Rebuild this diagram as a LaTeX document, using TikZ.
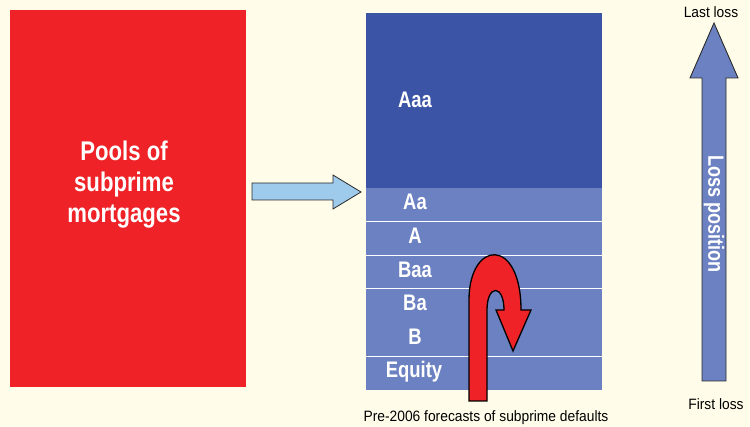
\documentclass[tikz,border=0pt]{standalone}
\usepackage{fontspec}
\setmainfont{Liberation Sans}[FakeStretch=0.82]
\newfontfamily\plainsans{Liberation Sans}[FakeStretch=0.92]
\definecolor{bg}{HTML}{FFFDEA}
\definecolor{poolred}{HTML}{EE2227}
\definecolor{darkblue}{HTML}{3B54A5}
\definecolor{midblue}{HTML}{6B81C1}
\definecolor{lightblue}{HTML}{9ECAEC}
\definecolor{outl}{HTML}{2A2A2A}
\tikzset{
  tlabel/.style={text=white,font=\fontsize{22.5}{22.5}\selectfont\bfseries,anchor=center,inner sep=0pt},
  small/.style={text=black,font=\plainsans\fontsize{15}{15}\selectfont,inner sep=0pt},
  sep/.style={draw=white,line width=1pt}
}
\begin{document}
\begin{tikzpicture}[x=1pt,y=-1pt]
\fill[bg] (0,0) rectangle (750,427);
\useasboundingbox (0,0) rectangle (750,427);
% pool box
\fill[poolred] (10,10) rectangle (246,387);
\node[text=white,font=\fontsize{27}{31}\selectfont\bfseries,align=center] (pool) at (124,185) {Pools of\\subprime\\mortgages};
% middle arrow
\draw[fill=lightblue,draw=outl,line width=0.8pt,line join=miter] (252,183) -- (333,183) -- (333,175) -- (361,192) -- (333,209) -- (333,200) -- (252,200) -- cycle;
% tranches
\fill[darkblue] (366,13) rectangle (602,188);
\fill[midblue] (366,188) rectangle (602,390);
\draw[sep] (366,221.7) -- (602,221.7);
\draw[sep] (366,255.7) -- (602,255.7);
\draw[sep] (366,289) -- (602,289);
\draw[sep] (366,356.7) -- (602,356.7);
\node[tlabel] (aaa) at (415,100) {Aaa};
\node[tlabel] (aa) at (415,202) {Aa};
\node[tlabel] (a) at (415,236) {A};
\node[tlabel] (baa) at (415,270) {Baa};
\node[tlabel] (ba) at (415,303) {Ba};
\node[tlabel] (b) at (415,337) {B};
\node[tlabel] (eq) at (414,372) {Equity};
% red U-turn arrow
\draw[fill=poolred,draw=black,line width=1.3pt,line join=miter]
  (469,401) -- (469,300) .. controls (469,240) and (521,236) .. (521,310)
  -- (531,310) -- (513,351) -- (496,310) -- (504,310)
  .. controls (504,284) and (487,284) .. (487,310) -- (487,401) -- cycle;
\node[small] (cap) at (486,418) {Pre-2006 forecasts of subprime defaults};
% loss position arrow
\draw[fill=midblue,draw=outl,line width=0.9pt,line join=miter] (702,381) -- (702,78) -- (690,78) -- (714,23) -- (738,78) -- (726,78) -- (726,381) -- cycle;
\node[text=white,font=\fontsize{22}{22}\selectfont\bfseries,rotate=-90,inner sep=0pt] (lp) at (714,214) {Loss position};
\node[small] (last) at (711,12) {Last loss};
\node[small] (first) at (716,404) {First loss};
\end{tikzpicture}
\end{document}
